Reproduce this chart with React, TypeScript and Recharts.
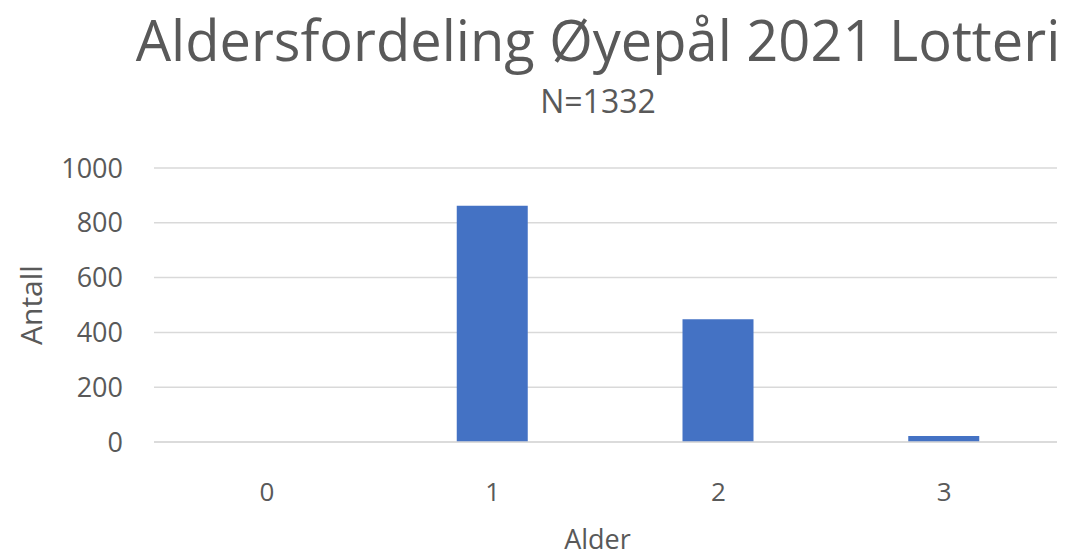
import { BarChart, Bar, XAxis, YAxis, CartesianGrid, Label } from "recharts";

const ages = ["0", "1", "2", "3"];
const counts = [0, 862, 448, 22];
const yTicks = [0, 200, 400, 600, 800, 1000];

const title = "Aldersfordeling Øyepål 2021 Lotteri";
const subtitle = "N=1332";
const xTitle = "Alder";
const yTitle = "Antall";

const data = ages.map((a, i) => ({ age: a, count: counts[i] }));

const FONT = "'Open Sans', sans-serif";
const TEXT = "#595959";
const GRID = "#d9d9d9";

export default function App() {
  return (
    <div
      style={{
        position: "fixed",
        left: 0,
        top: 0,
        width: 1071,
        height: 556,
        background: "#fff",
        fontFamily: FONT,
        color: TEXT,
      }}
    >
      <div
        style={{
          position: "absolute",
          left: 0,
          width: 1071,
          top: 11,
          textAlign: "center",
          fontSize: 56,
          lineHeight: 1,
          whiteSpace: "nowrap",
        }}
      >
        <span style={{ display: "inline-block", marginLeft: 125 }}>{title}</span>
      </div>
      <div
        style={{
          position: "absolute",
          left: 0,
          width: 1071,
          top: 85,
          textAlign: "center",
          fontSize: 32,
          lineHeight: 1,
        }}
      >
        <span style={{ marginLeft: 125 }}>{subtitle}</span>
      </div>
      <BarChart
        width={1071}
        height={556}
        data={data}
        margin={{ top: 168, right: 14, left: 54, bottom: 0 }}
        barSize={71}
      >
        <CartesianGrid vertical={false} stroke={GRID} strokeWidth={1.5} />
        <XAxis
          dataKey="age"
          height={114}
          axisLine={{ stroke: GRID, strokeWidth: 1.5 }}
          tickLine={false}
          tickMargin={35}
          tick={{ fill: TEXT, fontSize: 26, fontFamily: FONT }}
        >
          <Label
            content={({ viewBox }: any) => (
              <text
                x={viewBox.x + viewBox.width / 2 - 8}
                y={viewBox.y + viewBox.height - 7}
                textAnchor="middle"
                fill={TEXT}
                fontSize={27}
                fontFamily={FONT}
              >
                {xTitle}
              </text>
            )}
          />
        </XAxis>
        <YAxis
          width={100}
          domain={[0, 1000]}
          ticks={yTicks}
          axisLine={false}
          tickLine={false}
          tickMargin={25}
          tick={{ fill: TEXT, fontSize: 27, fontFamily: FONT }}
        >
          <Label
            content={({ viewBox }: any) => {
              const cx = viewBox.x - 24;
              const cy = viewBox.y + viewBox.height / 2;
              return (
                <text
                  x={cx}
                  y={cy}
                  transform={`rotate(-90 ${cx} ${cy})`}
                  textAnchor="middle"
                  dominantBaseline="central"
                  fill={TEXT}
                  fontSize={30}
                  fontFamily={FONT}
                >
                  {yTitle}
                </text>
              );
            }}
          />
        </YAxis>
        <Bar dataKey="count" fill="#4472c4" isAnimationActive={false} />
      </BarChart>
    </div>
  );
}
